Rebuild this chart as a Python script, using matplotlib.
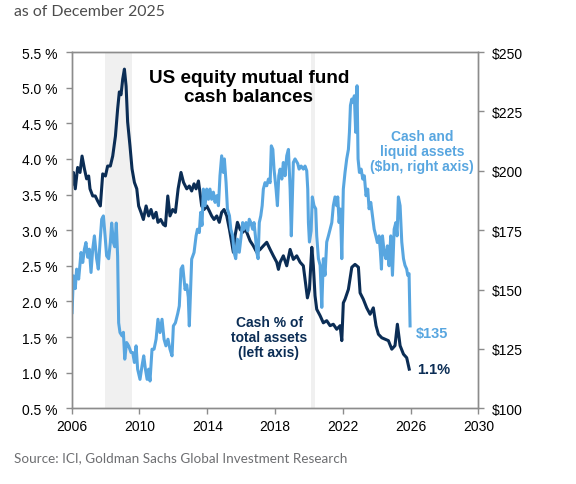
import matplotlib
matplotlib.use("Agg")
import matplotlib.pyplot as plt
from matplotlib.ticker import FuncFormatter, MultipleLocator

plt.rcParams['font.family'] = ['Liberation Sans', 'DejaVu Sans']

# cash as % of total assets (left axis)
pct_years = [2006.02, 2006.10, 2006.21, 2006.35, 2006.49, 2006.61, 2006.75, 2006.88, 2007.00, 2007.08,
             2007.24, 2007.39, 2007.53, 2007.69, 2007.83, 2007.99, 2008.12, 2008.28, 2008.42, 2008.58,
             2008.71, 2008.81, 2008.91, 2009.01, 2009.11, 2009.21, 2009.30, 2009.44, 2009.56, 2009.70,
             2009.84, 2009.95, 2010.09, 2010.23, 2010.39, 2010.54, 2010.68, 2010.82, 2010.98, 2011.09,
             2011.25, 2011.41, 2011.53, 2011.67, 2011.80, 2011.96, 2012.12, 2012.28, 2012.45, 2012.60,
             2012.79, 2012.94, 2013.08, 2013.22, 2013.34, 2013.48, 2013.57, 2013.67, 2013.81, 2013.97,
             2014.12, 2014.26, 2014.40, 2014.56, 2014.71, 2014.85, 2014.99, 2015.15, 2015.31, 2015.44,
             2015.54, 2015.64, 2015.78, 2015.94, 2016.09, 2016.23, 2016.33, 2016.53, 2016.72, 2016.92,
             2017.12, 2017.31, 2017.51, 2017.71, 2017.90, 2018.10, 2018.20, 2018.30, 2018.49, 2018.69,
             2018.89, 2019.08, 2019.28, 2019.48, 2019.67, 2019.77, 2019.91, 2020.03, 2020.17, 2020.26,
             2020.36, 2020.46, 2020.66, 2020.85, 2021.05, 2021.25, 2021.44, 2021.64, 2021.84, 2021.94,
             2022.03, 2022.13, 2022.33, 2022.53, 2022.72, 2022.92, 2023.02, 2023.21, 2023.41, 2023.61,
             2023.80, 2023.96, 2024.10, 2024.30, 2024.49, 2024.69, 2024.89, 2025.08, 2025.22, 2025.38,
             2025.58, 2025.77, 2025.92]
pct_values = [3.65, 3.81, 3.58, 3.88, 3.81, 4.04, 3.86, 3.72, 3.76, 3.58,
              3.48, 3.48, 3.41, 3.34, 3.79, 3.76, 3.90, 3.90, 4.04, 4.32,
              4.70, 4.94, 4.90, 5.12, 5.26, 5.02, 4.52, 4.18, 3.86, 3.67,
              3.58, 3.34, 3.25, 3.15, 3.34, 3.20, 3.29, 3.17, 3.25, 3.11,
              3.15, 3.08, 3.06, 3.48, 3.20, 3.29, 3.25, 3.58, 3.81, 3.67,
              3.58, 3.62, 3.55, 3.65, 3.58, 3.69, 3.53, 3.34, 3.29, 3.34,
              3.27, 3.20, 3.15, 3.20, 3.11, 3.25, 3.29, 3.20, 3.01, 2.83,
              2.69, 2.92, 3.11, 3.01, 2.97, 3.01, 2.97, 2.85, 2.78, 2.69,
              2.73, 2.78, 2.83, 2.73, 2.64, 2.55, 2.45, 2.55, 2.64, 2.50,
              2.73, 2.59, 2.64, 2.55, 2.50, 2.31, 2.05, 2.17, 2.76, 2.50,
              2.08, 1.89, 1.80, 1.70, 1.73, 1.66, 1.68, 1.61, 1.66, 1.45,
              1.98, 2.03, 2.17, 2.48, 2.52, 2.48, 2.12, 2.03, 1.91, 1.82,
              1.91, 1.66, 1.54, 1.49, 1.47, 1.45, 1.33, 1.38, 1.68, 1.38,
              1.26, 1.21, 1.05]

# cash and liquid assets, $bn (right axis)
bn_years = [2006.02, 2006.10, 2006.21, 2006.29, 2006.41, 2006.55, 2006.65, 2006.75, 2006.84, 2006.94,
            2007.04, 2007.14, 2007.24, 2007.34, 2007.47, 2007.57, 2007.67, 2007.77, 2007.87, 2007.97,
            2008.06, 2008.18, 2008.28, 2008.36, 2008.46, 2008.54, 2008.63, 2008.71, 2008.77, 2008.85,
            2008.97, 2009.05, 2009.13, 2009.24, 2009.36, 2009.50, 2009.60, 2009.70, 2009.80, 2009.89,
            2010.03, 2010.15, 2010.25, 2010.35, 2010.45, 2010.54, 2010.62, 2010.74, 2010.86, 2010.98,
            2011.09, 2011.21, 2011.33, 2011.45, 2011.56, 2011.68, 2011.80, 2011.92, 2012.00, 2012.12,
            2012.26, 2012.35, 2012.45, 2012.55, 2012.69, 2012.79, 2012.88, 2012.94, 2013.08, 2013.22,
            2013.34, 2013.42, 2013.53, 2013.61, 2013.69, 2013.77, 2013.87, 2013.97, 2014.07, 2014.16,
            2014.26, 2014.36, 2014.46, 2014.56, 2014.66, 2014.75, 2014.85, 2014.95, 2015.01, 2015.11,
            2015.19, 2015.31, 2015.39, 2015.50, 2015.58, 2015.68, 2015.78, 2015.89, 2015.98, 2016.09,
            2016.17, 2016.29, 2016.39, 2016.48, 2016.57, 2016.68, 2016.76, 2016.84, 2016.92, 2017.00,
            2017.07, 2017.16, 2017.24, 2017.31, 2017.41, 2017.51, 2017.61, 2017.71, 2017.78, 2017.87,
            2017.94, 2018.06, 2018.14, 2018.22, 2018.30, 2018.40, 2018.49, 2018.59, 2018.69, 2018.79,
            2018.89, 2018.96, 2019.08, 2019.18, 2019.34, 2019.42, 2019.54, 2019.67, 2019.77, 2019.87,
            2019.93, 2019.97, 2020.03, 2020.13, 2020.20, 2020.30, 2020.40, 2020.46, 2020.56, 2020.66,
            2020.76, 2020.85, 2020.95, 2021.05, 2021.15, 2021.25, 2021.35, 2021.44, 2021.54, 2021.64,
            2021.70, 2021.78, 2021.86, 2021.94, 2022.03, 2022.13, 2022.23, 2022.33, 2022.39, 2022.45,
            2022.53, 2022.62, 2022.68, 2022.76, 2022.84, 2022.90, 2022.98, 2023.08, 2023.18, 2023.27,
            2023.37, 2023.47, 2023.55, 2023.65, 2023.75, 2023.85, 2023.95, 2024.04, 2024.14, 2024.22,
            2024.28, 2024.34, 2024.44, 2024.54, 2024.63, 2024.73, 2024.83, 2024.93, 2025.03, 2025.13,
            2025.20, 2025.28, 2025.38, 2025.48, 2025.58, 2025.67, 2025.77, 2025.83, 2025.91, 2025.97]
bn_values = [140.3, 155.8, 150.4, 158.6, 154.4, 165.6, 161.4, 167.0, 169.8, 163.6,
             167.0, 157.2, 167.0, 172.6, 163.0, 158.6, 169.8, 179.6, 181.0, 172.6,
             164.2, 163.0, 169.8, 178.0, 169.8, 168.0, 178.0, 164.0, 136.0, 131.9,
             130.5, 132.0, 120.7, 127.7, 126.3, 123.5, 123.5, 119.3, 126.3, 116.5,
             112.2, 117.9, 122.1, 116.5, 112.2, 116.5, 111.5, 124.9, 124.9, 129.1,
             137.5, 131.9, 137.5, 129.1, 126.3, 129.1, 124.9, 122.1, 134.7, 136.0,
             140.0, 143.1, 158.6, 160.0, 150.0, 152.0, 146.8, 134.7, 162.8, 165.6,
             172.6, 175.4, 174.0, 182.5, 177.0, 192.3, 185.3, 192.3, 188.0, 192.3,
             188.0, 191.0, 186.7, 189.5, 185.3, 197.9, 206.3, 199.3, 205.0, 195.0,
             183.9, 181.1, 175.4, 172.6, 165.7, 163.0, 171.2, 165.7, 171.2, 178.2,
             175.4, 178.2, 174.7, 179.6, 178.2, 175.4, 178.2, 172.6, 165.7, 163.0,
             178.2, 181.1, 185.3, 192.3, 195.0, 193.7, 196.5, 195.0, 210.5, 209.0,
             200.7, 192.3, 185.3, 197.9, 200.7, 196.5, 203.5, 197.9, 206.3, 209.0,
             192.3, 172.6, 203.5, 205.0, 203.0, 200.7, 202.0, 200.7, 202.0, 200.0,
             192.3, 178.2, 170.0, 174.7, 189.0, 185.3, 184.0, 172.6, 163.0, 160.2,
             142.5, 163.0, 156.0, 170.0, 172.6, 175.4, 178.2, 185.3, 189.0, 185.3,
             189.0, 178.2, 183.9, 163.0, 192.3, 199.3, 205.0, 209.0, 216.2, 227.5,
             230.2, 228.8, 231.6, 216.2, 235.8, 205.0, 199.3, 200.7, 196.5, 197.9,
             189.5, 192.3, 184.0, 186.7, 181.1, 175.4, 172.6, 169.8, 172.6, 165.7,
             158.6, 172.6, 165.7, 163.0, 168.4, 160.0, 172.6, 156.0, 175.4, 178.2,
             172.6, 189.0, 185.3, 170.0, 163.0, 160.2, 158.6, 156.0, 156.7, 134.7]

year_ticks = [2006, 2010, 2014, 2018, 2022, 2026, 2030]
recessions = [(2007.97, 2009.54), (2020.13, 2020.37)]

dark = '#0b2d55'
light = '#58a6e0'
spine_col = '#8c8c8c'

fig = plt.figure(figsize=(5.76, 4.85), dpi=100)
ax = fig.add_axes([0.1245, 0.156, 0.706, 0.7347])
ax2 = ax.twinx()

for start, end in recessions:
    ax.axvspan(start, end, color='#f0f0f0', lw=0, zorder=0)

ax.plot(pct_years, pct_values, color=dark, lw=2.2, solid_joinstyle='round')
ax2.plot(bn_years, bn_values, color=light, lw=2.2, solid_joinstyle='round')

ax.set_xlim(year_ticks[0], year_ticks[-1])
ax.set_xticks(year_ticks)
ax.set_ylim(0.5, 5.5)
ax2.set_ylim(100, 250)
ax.yaxis.set_major_locator(MultipleLocator(0.5))
ax2.yaxis.set_major_locator(MultipleLocator(25))
ax.yaxis.set_major_formatter(FuncFormatter(lambda v, p: f'{v:.1f} %'))
ax2.yaxis.set_major_formatter(FuncFormatter(lambda v, p: f'${v:.0f}'))

for a in (ax, ax2):
    for s in a.spines.values():
        s.set_color(spine_col)
        s.set_linewidth(1.0)
    a.tick_params(direction='out', length=4, width=1, color=spine_col,
                  labelsize=10, labelcolor='black')
ax.tick_params(axis='y', pad=6)
ax2.tick_params(axis='y', pad=6)
ax.tick_params(axis='x', pad=4)
ax2.set_zorder(ax.get_zorder() + 1)
ax2.patch.set_visible(False)

# labels inside the chart
fig.text(249 / 576, 1 - 88 / 485, 'US equity mutual fund\ncash balances', ha='center', va='center',
         fontsize=13.6, fontweight='bold', color='black', linespacing=1.15)
fig.text(422 / 576, 1 - 152 / 485, 'Cash and\nliquid assets\n($bn, right axis)', ha='center',
         va='center', fontsize=10, fontweight='bold', color=light, linespacing=1.05)
fig.text(269 / 576, 1 - 338 / 485, 'Cash % of\ntotal assets\n(left axis)', ha='center',
         va='center', fontsize=10, fontweight='bold', color=dark, linespacing=1.05)
ax2.annotate(f'${bn_values[-1]:.0f}', (bn_years[-1], bn_values[-1]), xytext=(4, -5),
             textcoords='offset points', ha='left', va='center', fontsize=10.5,
             fontweight='bold', color=light)
ax.annotate(f'{pct_values[-1]:.1f}%', (pct_years[-1], pct_values[-1]), xytext=(6, 0),
            textcoords='offset points', ha='left', va='center', fontsize=10.5,
            fontweight='bold', color=dark)

fig.text(14 / 576, 1 - 12 / 485, 'as of December 2025', ha='left', va='center',
         fontsize=11.4, color='#4d4d4d', family=['Lato', 'DejaVu Sans'])
fig.text(14 / 576, 1 - 458 / 485, 'Source: ICI, Goldman Sachs Global Investment Research',
         ha='left', va='center', fontsize=9.7, color='#6d6e71', family=['Lato', 'DejaVu Sans'])

fig.savefig('out.png', dpi=100)
